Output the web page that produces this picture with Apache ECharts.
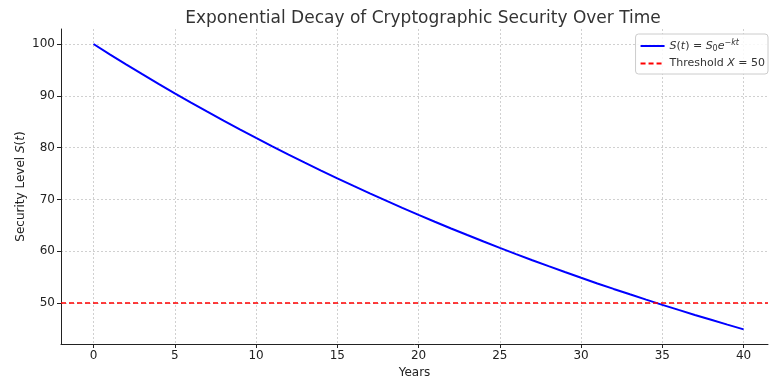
<!DOCTYPE html>
<html><head><meta charset="utf-8">
<script src="https://cdn.jsdelivr.net/npm/echarts@6/dist/echarts.min.js"></script>
<style>html,body{margin:0;padding:0;background:#fff}#c{width:769px;height:381px}</style>
</head><body><div id="c"></div>
<script>
const years = [0,1,2,3,4,5,6,7,8,9,10,11,12,13,14,15,16,17,18,19,20,21,22,23,24,25,26,27,28,29,30,31,32,33,34,35,36,37,38,39,40];
const security = [100,98.02,96.08,94.18,92.31,90.48,88.69,86.94,85.21,83.53,81.87,80.25,78.66,77.11,75.58,74.08,72.61,71.18,69.77,68.39,67.03,65.70,64.40,63.13,61.88,60.65,59.45,58.27,57.12,55.99,54.88,53.79,52.73,51.69,50.66,49.66,48.68,47.71,46.77,45.84,44.93];
const threshold = 50;
const xTicks = [0,5,10,15,20,25,30,35,40];
const yTicks = [50,60,70,80,90,100];
const titleText = 'Exponential Decay of Cryptographic Security Over Time';
const seriesNames = ['S(t) = S0e^-kt', 'Threshold X = 50'];

const F = 'DejaVu Sans';
const chart = echarts.init(document.getElementById('c'), null, {renderer:'canvas'});
const gridLine = {show:true, lineStyle:{color:'#c4c4c4', type:[2,2], width:0.8}};
chart.setOption({
  animation:false,
  backgroundColor:'#fff',
  title:{text:titleText, left:418, textAlign:'center', top:5,
    textStyle:{fontFamily:F, fontSize:17, fontWeight:'normal', color:'#333'}},
  grid:{left:61, right:1, top:29, bottom:37, containLabel:false, outerBoundsMode:'none'},
  legend:{
    right:1, top:34, orient:'vertical', itemGap:5, itemWidth:24, itemHeight:10,
    padding:[5,3,5,4], borderColor:'#cccccc', borderWidth:1, borderRadius:3,
    backgroundColor:'rgba(255,255,255,0.85)',
    itemStyle:{opacity:0},
    formatter:function(n){
      if(n===seriesNames[0]) return '{i|S}({i|t}) = {i|S}{sub|0}{i|e}{sup|−kt}';
      return 'Threshold {i|X} = 50';
    },
    textStyle:{fontFamily:F, fontSize:11, color:'#333',
      rich:{i:{fontStyle:'italic', fontFamily:F, fontSize:11, color:'#333'},
            sub:{fontSize:8, fontFamily:F, color:'#333', verticalAlign:'bottom', padding:[4,0,0,0]},
            sup:{fontSize:8, fontFamily:F, fontStyle:'italic', color:'#333', verticalAlign:'top', padding:[0,0,6,0]}}},
    data:seriesNames
  },
  xAxis:{type:'value', min:-2, max:41.5, name:'Years', nameLocation:'middle', nameGap:23, nameMoveOverlap:false,
    nameTextStyle:{fontFamily:F, fontSize:12, color:'#222'},
    axisLine:{show:true, onZero:false, lineStyle:{color:'#222', width:1}},
    axisTick:{show:true, length:4, lineStyle:{color:'#222'}, customValues:xTicks},
    axisLabel:{fontFamily:F, fontSize:12, color:'#222', margin:6, customValues:xTicks},
    splitLine:gridLine},
  yAxis:{type:'value', min:42.1, max:102.9, name:'Security Level {i|S}({i|t})', nameLocation:'middle', nameGap:34, nameMoveOverlap:false,
    nameTextStyle:{fontFamily:F, fontSize:12, color:'#222', rich:{i:{fontStyle:'italic', fontFamily:F, fontSize:12, color:'#222'}}},
    axisLine:{show:true, onZero:false, lineStyle:{color:'#222', width:1}},
    axisTick:{show:true, length:4, lineStyle:{color:'#222'}, customValues:yTicks},
    axisLabel:{fontFamily:F, fontSize:12, color:'#222', margin:6, customValues:yTicks},
    splitLine:gridLine},
  series:[
    {name:seriesNames[0], type:'line', data:years.map((y,i)=>[y,security[i]]), showSymbol:false, symbol:'none',
     lineStyle:{color:'#0000ff', width:2}, itemStyle:{color:'#0000ff'}, z:3},
    {name:seriesNames[1], type:'line', data:[], symbol:'none',
     lineStyle:{color:'#ff0000', width:1.6, type:[5,3]}, itemStyle:{color:'#ff0000'},
     markLine:{silent:true, symbol:['none','none'], label:{show:false},
       lineStyle:{color:'#ff0000', width:1.6, type:[5,3]}, data:[{yAxis:threshold}]}, z:4}
  ]
});
</script></body></html>
